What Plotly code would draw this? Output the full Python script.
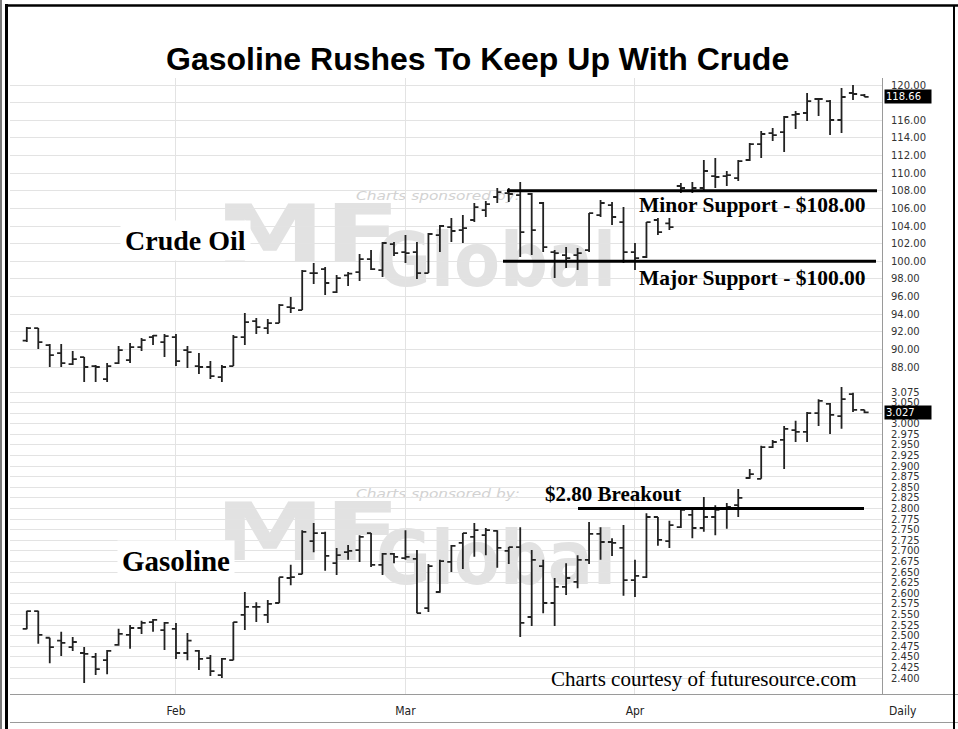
import base64
import plotly.graph_objects as go

# ---------------- data ----------------
dates = ["2008-01-14","2008-01-15","2008-01-16","2008-01-17","2008-01-18","2008-01-22","2008-01-23",
         "2008-01-24","2008-01-25","2008-01-28","2008-01-29","2008-01-30","2008-01-31",
         "2008-02-01","2008-02-04","2008-02-05","2008-02-06","2008-02-07","2008-02-08","2008-02-11",
         "2008-02-12","2008-02-13","2008-02-14","2008-02-15","2008-02-19","2008-02-20","2008-02-21",
         "2008-02-22","2008-02-25","2008-02-26","2008-02-27","2008-02-28","2008-02-29",
         "2008-03-03","2008-03-04","2008-03-05","2008-03-06","2008-03-07","2008-03-10","2008-03-11",
         "2008-03-12","2008-03-13","2008-03-14","2008-03-17","2008-03-18","2008-03-19","2008-03-20",
         "2008-03-24","2008-03-25","2008-03-26","2008-03-27","2008-03-28","2008-03-31",
         "2008-04-01","2008-04-02","2008-04-03","2008-04-04","2008-04-07","2008-04-08","2008-04-09",
         "2008-04-10","2008-04-11","2008-04-14","2008-04-15","2008-04-16","2008-04-17","2008-04-18",
         "2008-04-21","2008-04-22","2008-04-23","2008-04-24","2008-04-25","2008-04-28","2008-04-29"]

crude_open = [91.00, 92.42, 90.49, 89.58, 88.33, 89.13, 88.10, 86.63, 88.44, 88.79, 90.26, 91.40, 90.83,
              91.40, 89.92, 88.10, 88.00, 86.86, 88.10, 91.40, 93.21, 92.42, 92.99, 94.80, 94.46, 98.66,
              99.11, 96.50, 98.40, 98.77, 100.25, 99.00, 101.95,
              101.04, 101.04, 98.66, 102.97, 103.88, 103.54, 104.68, 105.80, 107.29, 107.74, 107.51,
              107.63, 106.61, 101.04, 100.70, 100.70, 101.27, 105.24, 106.38, 104.45,
              101.04, 100.48, 104.68, 104.30, 108.54, 107.97, 108.31, 109.67, 109.67, 109.44, 111.49,
              113.30, 114.55, 114.66, 116.60, 116.82, 118.41, 118.18, 116.03, 119.09, 118.86]
crude_high = [92.53, 92.42, 90.60, 90.60, 89.81, 89.13, 88.22, 88.44, 90.38, 90.72, 91.28, 91.62, 91.74,
              91.74, 90.38, 89.58, 88.67, 88.22, 91.62, 94.12, 93.55, 93.44, 95.14, 95.94, 99.00, 99.80,
              99.34, 98.43, 98.77, 100.82, 101.27, 102.18, 102.18,
              102.97, 102.18, 103.20, 104.11, 104.90, 105.24, 106.61, 106.83, 108.31, 108.31, 108.99,
              107.74, 106.72, 101.27, 101.61, 101.50, 105.47, 106.95, 106.72, 106.15,
              102.07, 104.45, 104.90, 104.90, 108.88, 108.99, 111.49, 111.71, 110.24, 111.49, 113.42,
              114.78, 115.12, 116.48, 117.05, 119.09, 118.52, 118.30, 119.66, 120.00, 118.98]
crude_low = [90.83, 90.03, 87.99, 87.99, 88.22, 86.29, 86.29, 86.29, 88.33, 88.44, 89.81, 90.49, 89.13,
             88.10, 87.88, 87.20, 86.63, 86.29, 88.10, 90.49, 91.74, 91.74, 92.99, 94.12, 94.46, 97.41,
             96.16, 96.39, 97.19, 97.75, 99.00, 98.21, 100.59,
             99.80, 97.98, 98.66, 101.04, 102.18, 102.07, 104.45, 105.02, 106.61, 106.72, 100.48,
             100.70, 101.04, 98.09, 99.23, 99.00, 101.04, 105.02, 104.11, 99.80,
             99.00, 100.36, 102.97, 103.54, 107.74, 107.74, 107.97, 108.31, 108.54, 109.10, 111.37,
             111.71, 113.64, 112.40, 115.00, 115.91, 116.48, 114.32, 114.55, 118.30, 118.64]
crude_close = [92.42, 90.83, 89.35, 88.44, 88.90, 88.00, 88.00, 88.10, 89.92, 90.26, 91.06, 91.55, 91.51,
               88.67, 89.69, 88.00, 86.97, 88.00, 91.40, 93.10, 92.53, 92.99, 95.03, 94.69, 98.89, 98.66,
               97.53, 98.09, 98.60, 100.25, 99.10, 102.07, 100.93,
               100.93, 98.66, 103.09, 104.00, 103.43, 103.77, 106.15, 106.49, 107.85, 107.63, 103.31,
               103.54, 101.61, 100.93, 100.36, 100.93, 105.47, 106.61, 105.02, 101.04,
               100.36, 104.45, 103.31, 103.88, 108.31, 108.31, 110.24, 109.56, 109.78, 111.37, 113.30,
               114.44, 114.32, 116.37, 116.71, 118.18, 118.41, 116.03, 118.64, 118.98, 118.66]

gas_open = [2.516, 2.558, 2.495, 2.488, 2.473, 2.459, 2.450, 2.442, 2.478, 2.502, 2.518, 2.532, 2.513,
            2.516, 2.459, 2.464, 2.447, 2.407, 2.442, 2.549, 2.568, 2.549, 2.577, 2.636, 2.645, 2.723,
            2.742, 2.671, 2.697, 2.702, 2.742, 2.667, 2.693,
            2.683, 2.681, 2.565, 2.603, 2.674, 2.719, 2.733, 2.737, 2.747, 2.700, 2.709, 2.544, 2.664,
            2.577, 2.615, 2.627, 2.679, 2.740, 2.721, 2.707,
            2.631, 2.638, 2.780, 2.723, 2.756, 2.785, 2.754, 2.780, 2.799, 2.808, 2.872, 2.870, 2.945,
            2.962, 2.985, 2.981, 3.025, 3.047, 3.018, 3.070, 3.033]
gas_high = [2.559, 2.559, 2.495, 2.509, 2.497, 2.473, 2.459, 2.466, 2.516, 2.525, 2.535, 2.539, 2.532,
            2.530, 2.506, 2.466, 2.454, 2.447, 2.532, 2.603, 2.579, 2.584, 2.638, 2.667, 2.749, 2.766,
            2.745, 2.707, 2.714, 2.737, 2.742, 2.695, 2.695,
            2.749, 2.702, 2.669, 2.679, 2.714, 2.742, 2.766, 2.754, 2.749, 2.709, 2.756, 2.702, 2.679,
            2.636, 2.671, 2.690, 2.768, 2.756, 2.730, 2.761,
            2.679, 2.789, 2.780, 2.771, 2.801, 2.797, 2.827, 2.808, 2.813, 2.846, 2.893, 2.948, 2.962,
            2.995, 3.007, 3.028, 3.058, 3.049, 3.087, 3.073, 3.033]
gas_low = [2.515, 2.481, 2.435, 2.452, 2.464, 2.388, 2.407, 2.409, 2.476, 2.469, 2.504, 2.509, 2.466,
           2.445, 2.442, 2.419, 2.405, 2.400, 2.442, 2.513, 2.532, 2.530, 2.577, 2.619, 2.645, 2.697,
           2.653, 2.643, 2.679, 2.674, 2.662, 2.643, 2.671,
           2.679, 2.553, 2.556, 2.601, 2.650, 2.657, 2.686, 2.690, 2.660, 2.669, 2.497, 2.523, 2.553,
           2.523, 2.596, 2.612, 2.669, 2.679, 2.688, 2.594,
           2.591, 2.636, 2.712, 2.707, 2.754, 2.730, 2.745, 2.737, 2.752, 2.780, 2.870, 2.870, 2.943,
           2.893, 2.957, 2.957, 2.995, 2.976, 2.988, 3.028, 3.025]
gas_close = [2.558, 2.502, 2.473, 2.483, 2.485, 2.457, 2.421, 2.464, 2.504, 2.518, 2.530, 2.537, 2.530,
             2.459, 2.488, 2.445, 2.416, 2.445, 2.532, 2.568, 2.568, 2.575, 2.638, 2.638, 2.745, 2.742,
             2.688, 2.690, 2.700, 2.733, 2.667, 2.693, 2.686,
             2.686, 2.553, 2.664, 2.676, 2.712, 2.742, 2.749, 2.749, 2.707, 2.709, 2.530, 2.679, 2.577,
             2.615, 2.636, 2.679, 2.740, 2.721, 2.719, 2.631,
             2.641, 2.780, 2.726, 2.761, 2.797, 2.754, 2.780, 2.797, 2.804, 2.825, 2.881, 2.945, 2.957,
             2.988, 2.981, 3.025, 3.054, 3.021, 3.058, 3.033, 3.027]

month_ticks = ["2008-02-01", "2008-03-03", "2008-04-01"]
month_labels = ["Feb", "Mar", "Apr"]
crude_ticks = [88, 90, 92, 94, 96, 98, 100, 102, 104, 106, 108, 110, 112, 114, 116, 118, 120]
gas_ticks = [2.400, 2.425, 2.450, 2.475, 2.500, 2.525, 2.550, 2.575, 2.600, 2.625, 2.650, 2.675,
             2.700, 2.725, 2.750, 2.775, 2.800, 2.825, 2.850, 2.875, 2.900, 2.925, 2.950, 2.975,
             3.000, 3.025, 3.050, 3.075]
crude_last = 118.66
gas_last = 3.027
support_levels = [108.00, 100.00]
breakout_level = 2.80

# ---------------- geometry ----------------
W, H = 958, 729
ML, MR, MT, MB = 10, 76, 78, 35
PW, PH = W - ML - MR, H - MT - MB
SPLIT = 386          # pixel row separating the two panels


def px(xp):
    return (xp - ML) / PW


def py(yp):
    return 1 - (yp - MT) / PH


# x calibration: first bar centre and bar pitch (pixels)
X0, DX = 26.8, 11.475
x_range = [(ML - X0) / DX, (W - MR - X0) / DX]

# y calibration
ck = (367 - 85) / (120 - 88)                 # px per $ crude
crude_range = [120 - (SPLIT - 85) / ck, 120 + (85 - MT) / ck]
gk = (678 - 392) / (3.075 - 2.400)          # px per $ gasoline
gas_range = [3.075 - (H - MB - 392) / gk, 3.075 + (392 - SPLIT) / gk]


def label_text(vals, fmt, hidden):
    # the tick label sitting under the highlighted "last price" box is covered in the original
    return ["" if abs(v - hidden) < 1e-9 else fmt.format(v) for v in vals]


BAR = "#222222"
GRID = "#e3e3e3"
AXC = "#9a9a9a"
TICKFONT = dict(family="DejaVu Sans, Verdana, sans-serif", size=10, color="#333333")
DATEFONT = dict(family="DejaVu Sans Condensed, Liberation Sans Narrow, Arial Narrow, sans-serif",
                size=12, color="#222222")
SERIF = "Liberation Serif, Times New Roman, serif"

fig = go.Figure()
style = dict(hoverinfo="skip", showlegend=False, tickwidth=0.36,
             increasing=dict(line=dict(color=BAR, width=1.8)),
             decreasing=dict(line=dict(color=BAR, width=1.8)))
fig.add_trace(go.Ohlc(x=dates, open=crude_open, high=crude_high, low=crude_low, close=crude_close,
                      xaxis="x", yaxis="y", **style))
fig.add_trace(go.Ohlc(x=dates, open=gas_open, high=gas_high, low=gas_low, close=gas_close,
                      xaxis="x2", yaxis="y2", **style))

xcommon = dict(type="category", range=x_range, tickmode="array", tickvals=month_ticks,
               showgrid=True, gridcolor=GRID, gridwidth=1, zeroline=False, showline=False,
               ticks="", rangeslider=dict(visible=False), fixedrange=True)
fig.update_layout(
    xaxis=dict(domain=[0, 1], anchor="y", showticklabels=False, **xcommon),
    xaxis2=dict(domain=[0, 1], anchor="y2", matches="x", showticklabels=True,
                ticktext=month_labels, tickfont=DATEFONT, ticklabelstandoff=8, **xcommon),
    yaxis=dict(domain=[py(SPLIT), 1], anchor="x", side="right", range=crude_range,
               tickmode="array", tickvals=crude_ticks,
               ticktext=label_text(crude_ticks, "{:.2f}", 118),
               tickfont=TICKFONT, showgrid=True, gridcolor=GRID, zeroline=False, fixedrange=True,
               showline=True, linecolor=AXC, linewidth=1, ticks="", ticklabelstandoff=6),
    yaxis2=dict(domain=[0, py(SPLIT)], anchor="x2", side="right", range=gas_range,
                tickmode="array", tickvals=gas_ticks,
                ticktext=label_text(gas_ticks, "{:.3f}", 3.025),
                tickfont=TICKFONT, showgrid=True, gridcolor=GRID, zeroline=False, fixedrange=True,
                showline=True, linecolor=AXC, linewidth=1, ticks="", ticklabelstandoff=6),
    width=W, height=H, margin=dict(l=ML, r=MR, t=MT, b=MB, pad=0),
    paper_bgcolor="white", plot_bgcolor="rgba(0,0,0,0)", showlegend=False,
)

# ---------------- watermark (MF Global) as a background SVG ----------------
def wm(dy):
    return (f'<text x="215" y="{262+dy}" font-size="80" font-weight="bold" '
            f'textLength="185" lengthAdjust="spacingAndGlyphs">MF</text>'
            f'<text x="376" y="{286+dy}" font-size="74" font-weight="bold" '
            f'textLength="240" lengthAdjust="spacingAndGlyphs">Global</text>'
            f'<text x="356" y="{200+dy}" font-size="12" font-style="italic" fill="#d2d2d2" '
            f'textLength="164" lengthAdjust="spacingAndGlyphs">Charts sponsored by:</text>')


svg = (f'<svg xmlns="http://www.w3.org/2000/svg" width="{W}" height="{H}" viewBox="0 0 {W} {H}">'
       f'<g fill="#e2e2e2" font-family="DejaVu Sans, Liberation Sans, sans-serif">'
       + wm(0) + wm(298) + '</g></svg>')
fig.add_layout_image(dict(source="data:image/svg+xml;base64," + base64.b64encode(svg.encode()).decode(),
                          xref="paper", yref="paper", x=px(0), y=py(0), sizex=W / PW, sizey=H / PH,
                          xanchor="left", yanchor="top", sizing="stretch", layer="below", opacity=1))

# ---------------- shapes ----------------
shapes = []
shapes.append(dict(type="line", xref="paper", yref="y", x0=px(507), x1=px(877),
                   y0=support_levels[0], y1=support_levels[0], line=dict(color="black", width=3)))
shapes.append(dict(type="line", xref="paper", yref="y", x0=px(503), x1=px(876),
                   y0=support_levels[1], y1=support_levels[1], line=dict(color="black", width=3)))
shapes.append(dict(type="line", xref="paper", yref="y2", x0=px(578), x1=px(864),
                   y0=breakout_level, y1=breakout_level, line=dict(color="black", width=3)))
shapes.append(dict(type="line", xref="paper", yref="paper", x0=px(ML), x1=px(W),
                   y0=py(694.5), y1=py(694.5), line=dict(color=AXC, width=1)))
shapes.append(dict(type="line", xref="paper", yref="paper", x0=px(ML), x1=px(W),
                   y0=py(722.5), y1=py(722.5), line=dict(color=AXC, width=1)))
shapes.append(dict(type="line", xref="paper", yref="paper", x0=px(1), x1=px(1),
                   y0=py(0), y1=py(H), line=dict(color="#222", width=1.2)))
shapes.append(dict(type="line", xref="paper", yref="paper", x0=px(6.5), x1=px(6.5),
                   y0=py(4), y1=py(H), line=dict(color="black", width=3)))
shapes.append(dict(type="line", xref="paper", yref="paper", x0=px(5), x1=px(W),
                   y0=py(5.5), y1=py(5.5), line=dict(color="black", width=2.5)))
shapes.append(dict(type="line", xref="paper", yref="paper", x0=px(954), x1=px(954),
                   y0=py(5), y1=py(H), line=dict(color="black", width=2)))
fig.update_layout(shapes=shapes)

# ---------------- annotations ----------------
ann = []
ann.append(dict(text="<b>Gasoline Rushes To Keep Up With Crude</b>", xref="paper", yref="paper",
                x=px(477), y=py(59), xanchor="center", yanchor="middle", showarrow=False,
                font=dict(family="Liberation Sans, Arial, sans-serif", size=32, color="black")))
ann.append(dict(text="<b>Crude Oil</b>", xref="paper", yref="paper", x=px(185), y=py(240),
                xanchor="center", yanchor="middle", showarrow=False, bgcolor="white", borderpad=4,
                font=dict(family=SERIF, size=28, color="black")))
ann.append(dict(text="<b>Gasoline</b>", xref="paper", yref="paper", x=px(176), y=py(561),
                xanchor="center", yanchor="middle", showarrow=False, bgcolor="white", borderpad=4,
                font=dict(family=SERIF, size=29, color="black")))
ann.append(dict(text=f"<b>Minor Support - ${support_levels[0]:.2f}</b>", xref="paper", yref="paper",
                x=px(637), y=py(205), xanchor="left", yanchor="middle", showarrow=False,
                font=dict(family=SERIF, size=21.5, color="black")))
ann.append(dict(text=f"<b>Major Support - ${support_levels[1]:.2f}</b>", xref="paper", yref="paper",
                x=px(637), y=py(278), xanchor="left", yanchor="middle", showarrow=False,
                font=dict(family=SERIF, size=21.5, color="black")))
ann.append(dict(text=f"<b>${breakout_level:.2f} Breakout</b>", xref="paper", yref="paper",
                x=px(543), y=py(494), xanchor="left", yanchor="middle", showarrow=False,
                font=dict(family=SERIF, size=21, color="black")))
ann.append(dict(text="Charts courtesy of futuresource.com", xref="paper", yref="paper",
                x=px(704), y=py(679), xanchor="center", yanchor="middle", showarrow=False,
                font=dict(family=SERIF, size=21, color="black")))
ann.append(dict(text=f"{crude_last:.2f}", xref="paper", yref="y", x=px(884), y=crude_last,
                xanchor="left", yanchor="middle", showarrow=False, bgcolor="black", borderpad=1,
                width=44, align="left", font=dict(family=TICKFONT["family"], size=10, color="white")))
ann.append(dict(text=f"{gas_last:.3f}", xref="paper", yref="y2", x=px(884), y=gas_last,
                xanchor="left", yanchor="middle", showarrow=False, bgcolor="black", borderpad=1,
                width=44, align="left", font=dict(family=TICKFONT["family"], size=10, color="white")))
ann.append(dict(text="Daily", xref="paper", yref="paper", x=px(903), y=py(711),
                xanchor="center", yanchor="middle", showarrow=False, font=DATEFONT))
fig.update_layout(annotations=ann)

fig.write_html("out.html", config={"displayModeBar": False, "staticPlot": True},
               post_script="document.body.style.margin='0';document.body.style.padding='0';")
